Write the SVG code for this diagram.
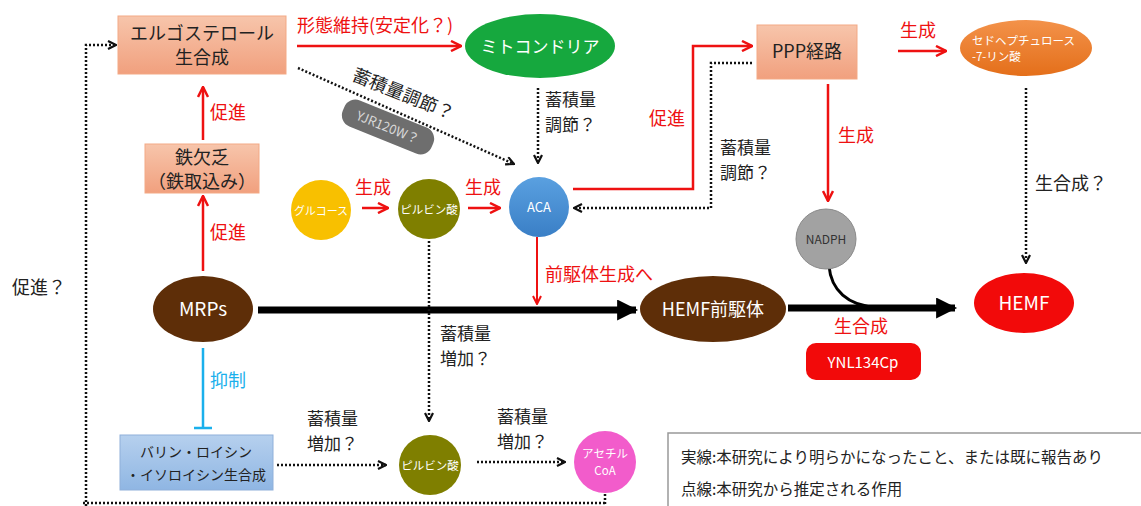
<svg xmlns="http://www.w3.org/2000/svg" width="1141" height="506" viewBox="0 0 1141 506">
<style>
text{font-family:"Noto Sans CJK JP","Noto Sans",sans-serif;}
.k{fill:#222;font-size:18px;}
.k2{fill:#222;font-size:17px;}
.r{fill:#ee1111;font-size:18px;}
.w{fill:#fff;}
.c{text-anchor:middle;}
.red{stroke:#ee1111;stroke-width:2.5;fill:none;}
.dot{stroke:#111;stroke-width:2.5;fill:none;stroke-dasharray:2 2;}
.thick{stroke:#000;stroke-width:7;fill:none;}
.peach{fill:url(#gp);stroke:#f3a985;stroke-width:1;}
</style>
<defs>
<linearGradient id="gp" x1="0" y1="0" x2="0" y2="1"><stop offset="0" stop-color="#f7c5ab"/><stop offset="1" stop-color="#f1a07e"/></linearGradient>
<linearGradient id="gb" x1="0" y1="0" x2="0" y2="1"><stop offset="0" stop-color="#b6d0ee"/><stop offset="1" stop-color="#8fb6e3"/></linearGradient>
<linearGradient id="go" x1="0" y1="0" x2="0" y2="1"><stop offset="0" stop-color="#f3924a"/><stop offset="1" stop-color="#e46f1a"/></linearGradient>
<linearGradient id="gaca" x1="0" y1="0" x2="0" y2="1"><stop offset="0" stop-color="#5aa0e0"/><stop offset="1" stop-color="#3a7fc6"/></linearGradient>
<marker id="ar" viewBox="0 0 10 10" refX="9" refY="5" markerWidth="5" markerHeight="5" orient="auto" markerUnits="strokeWidth"><path d="M1,1 L9,5 L1,9" fill="none" stroke="#ee1111" stroke-width="2"/></marker>
<marker id="ad" viewBox="0 0 10 10" refX="9" refY="5" markerWidth="4" markerHeight="4" orient="auto" markerUnits="strokeWidth"><path d="M1,1 L9,5 L1,9" fill="none" stroke="#111" stroke-width="2.2"/></marker>
<marker id="ab" viewBox="0 0 10 10" refX="9" refY="5" markerWidth="3.2" markerHeight="3" orient="auto" markerUnits="strokeWidth"><path d="M0,0 L10,5 L0,10 z" fill="#000"/></marker>
</defs>

<g id="connectors">
<path class="dot" d="M86,506 V45 H116" marker-end="url(#ad)"/>
<path class="dot" d="M83,503 H605"/>
<path class="dot" d="M605,494 V506"/>
<path class="red" d="M297,46 H461" marker-end="url(#ar)"/>
<path class="dot" d="M298,68 L514,164" marker-end="url(#ad)"/>
<path class="dot" d="M538,88 V163" marker-end="url(#ad)"/>
<path class="red" d="M362,208 H388" marker-end="url(#ar)"/>
<path class="red" d="M468,208 H500" marker-end="url(#ar)"/>
<path class="red" d="M573,189 H693 V46 H752" marker-end="url(#ar)"/>
<path class="dot" d="M752,63 H711 V208 H574" marker-end="url(#ad)"/>
<path class="red" d="M898,51 H946" marker-end="url(#ar)"/>
<path class="red" d="M828,84 V201" marker-end="url(#ar)"/>
<path class="dot" d="M1026,88 V263" marker-end="url(#ad)"/>
<path class="thick" d="M258,310 H636" marker-end="url(#ab)"/>
<path class="thick" d="M788,308 H955" marker-end="url(#ab)"/>
<path d="M829,266 C831,290 848,306 876,307" fill="none" stroke="#000" stroke-width="3"/>
<path class="red" d="M203,271 V196" marker-end="url(#ar)"/>
<path class="red" d="M203,140 V87" marker-end="url(#ar)"/>
<path d="M537,237 V304" fill="none" stroke="#ee1111" stroke-width="2" marker-end="url(#ar)"/>
<path class="dot" d="M429,241 V421" marker-end="url(#ad)"/>
<path d="M203,348 V428 M194,428 H212" fill="none" stroke="#1ab0ec" stroke-width="2.5"/>
<path class="dot" d="M277,465 H386" marker-end="url(#ad)"/>
<path class="dot" d="M477,462 H565" marker-end="url(#ad)"/>
</g>

<g id="labels">
<text class="r" x="297" y="32">形態維持(安定化？)</text>
<text class="k" x="12" y="294" font-size="19">促進？</text>
<text class="r" x="210" y="119">促進</text>
<text class="r" x="210" y="239">促進</text>
<text class="k2" x="545" y="106">蓄積量</text>
<text class="k2" x="545" y="131">調節？</text>
<text class="k" x="401" y="100" font-size="14" transform="rotate(22 401 100)" text-anchor="middle">蓄積量調節？</text>
<text class="r" x="355" y="194">生成</text>
<text class="r" x="465" y="194">生成</text>
<text class="r" x="649" y="125">促進</text>
<text class="k2" x="720" y="154">蓄積量</text>
<text class="k2" x="720" y="179">調節？</text>
<text class="r" x="900" y="37">生成</text>
<text class="r" x="838" y="142">生成</text>
<text class="k" x="1035" y="190">生合成？</text>
<text class="r" x="545" y="281" font-size="17">前駆体生成へ</text>
<text class="r" x="834" y="333">生合成</text>
<text class="k2" x="440" y="340">蓄積量</text>
<text class="k2" x="440" y="365">増加？</text>
<text fill="#1ab0ec" font-size="18" x="210" y="387">抑制</text>
<text class="k2" x="307" y="425">蓄積量</text>
<text class="k2" x="307" y="450">増加？</text>
<text class="k2" x="497" y="423">蓄積量</text>
<text class="k2" x="497" y="448">増加？</text>
</g>

<g id="ergosterol">
<rect class="peach" x="118" y="16" width="168" height="58"/>
<text class="k c" x="202" y="40">エルゴステロール</text>
<text class="k c" x="202" y="64">生合成</text>
</g>
<g id="mitochondria">
<ellipse cx="540" cy="46" rx="75" ry="32" fill="#16a83e"/>
<text class="w c" x="540" y="53" font-size="17">ミトコンドリア</text>
</g>
<g id="yjr120w">
<g transform="rotate(22 388 127)">
<rect x="340" y="113" width="96" height="28" rx="12" fill="#6e6e6e"/>
<text class="c" x="388" y="132" font-size="13" fill="#d8d8d8">YJR120W？</text>
</g>
</g>
<g id="iron">
<rect class="peach" x="145" y="144" width="114" height="49"/>
<text class="k c" x="202" y="164">鉄欠乏</text>
<text class="k c" x="202" y="188">（鉄取込み）</text>
</g>
<g id="glucose">
<circle cx="321" cy="210" r="30" fill="#f8c000"/>
<text class="w c" x="321" y="215" font-size="11">グルコース</text>
</g>
<g id="pyruvate1">
<ellipse cx="429" cy="209" rx="31" ry="30" fill="#7f7f00"/>
<text class="w c" x="429" y="214" font-size="11.5">ピルビン酸</text>
</g>
<g id="aca">
<circle cx="539" cy="207" r="30" fill="url(#gaca)"/>
<text class="w c" x="539" y="212" font-size="13">ACA</text>
</g>
<g id="ppp">
<rect class="peach" x="757" y="25" width="100" height="54"/>
<text class="k c" x="807" y="58" font-size="19">PPP経路</text>
</g>
<g id="sedoheptulose">
<ellipse cx="1026" cy="48" rx="66" ry="28" fill="url(#go)"/>
<text class="w" x="972" y="45" font-size="11.5">セドヘプチュロース</text>
<text class="w" x="972" y="61" font-size="11.5">-7-リン酸</text>
</g>
<g id="nadph">
<circle cx="826" cy="239" r="30" fill="#a2a2a2" stroke="#8a8a8a"/>
<text class="c" x="826" y="244" font-size="12" fill="#333">NADPH</text>
</g>
<g id="mrps">
<ellipse cx="203" cy="309" rx="50" ry="33" fill="#5e2e08"/>
<text class="w c" x="203" y="316" font-size="19">MRPs</text>
</g>
<g id="hemf-precursor">
<ellipse cx="713" cy="309" rx="73" ry="33" fill="#5e2e08"/>
<text class="w c" x="713" y="316" font-size="18">HEMF前駆体</text>
</g>
<g id="hemf">
<ellipse cx="1024" cy="303" rx="50" ry="30" fill="#f20a0a"/>
<text class="w c" x="1024" y="310" font-size="19">HEMF</text>
</g>
<g id="ynl134cp">
<rect x="806" y="343" width="115" height="37" rx="10" fill="#f20a0a"/>
<text class="w c" x="863" y="368" font-size="15">YNL134Cp</text>
</g>
<g id="bcaa">
<rect x="120" y="435" width="153" height="55" fill="url(#gb)" stroke="#8fb0da"/>
<text class="c" x="196" y="457" font-size="14" fill="#222">バリン・ロイシン</text>
<text class="c" x="196" y="480" font-size="14" fill="#222">・イソロイシン生合成</text>
</g>
<g id="pyruvate2">
<ellipse cx="430" cy="465" rx="31" ry="30" fill="#7f7f00"/>
<text class="w c" x="430" y="470" font-size="11.5">ピルビン酸</text>
</g>
<g id="acetylcoa">
<circle cx="605" cy="462" r="31" fill="#f25ccb"/>
<text class="w c" x="605" y="458" font-size="11.5">アセチル</text>
<text class="w c" x="605" y="475" font-size="11.5">CoA</text>
</g>
<g id="legend">
<path d="M668,506 V433 H1141" fill="none" stroke="#999" stroke-width="1.5"/>
<text x="681" y="463" font-size="15.5" fill="#222">実線:本研究により明らかになったこと、または既に報告あり</text>
<text x="681" y="495" font-size="15.5" fill="#222">点線:本研究から推定される作用</text>
</g>
</svg>
